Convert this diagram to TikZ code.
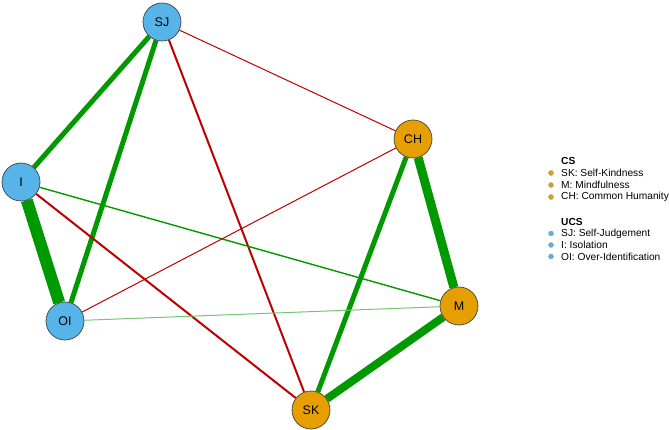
\documentclass[tikz,border=0pt]{standalone}
\usepackage{fontspec}
\setmainfont{Liberation Sans}
\usetikzlibrary{backgrounds}
\definecolor{pos}{HTML}{009900}
\definecolor{neg}{HTML}{BF0000}
\definecolor{csfill}{HTML}{E69F00}
\definecolor{ucsfill}{HTML}{56B4E9}
\begin{document}
\begin{tikzpicture}[x=1pt,y=-1pt,
  nd/.style={circle,draw=black!75,line width=0.7pt,minimum size=38pt,inner sep=0pt,font=\fontsize{12.5}{12.5}\selectfont},
  cs/.style={nd,fill=csfill},
  ucs/.style={nd,fill=ucsfill},
  pe/.style={draw=pos,line width=#1},
  ne/.style={draw=neg,line width=#1},
  dot/.style={circle,minimum size=5pt,inner sep=0pt,draw=black!40,line width=0.3pt},
  leg/.style={anchor=west,inner sep=0pt,font=\fontsize{10.2}{10}\selectfont},
  legh/.style={anchor=west,inner sep=0pt,font=\fontsize{10.2}{10}\selectfont\bfseries}]
\useasboundingbox (0,0) rectangle (669,430);
% nodes
\node[ucs] (SJ) at (162,22) {SJ};
\node[ucs] (I) at (21,182) {I};
\node[ucs] (OI) at (65,321) {OI};
\node[cs] (SK) at (311,410) {SK};
\node[cs] (CH) at (413,139) {CH};
\node[cs] (M) at (459,306) {M};
% edges
\begin{pgfonlayer}{background}
\fill[white] (0,0) rectangle (669,430);
\draw[pe=12pt] (I) -- (OI);
\draw[pe=9pt] (CH) -- (M);
\draw[pe=8pt] (SK) -- (M);
\draw[pe=5pt] (SJ) -- (I);
\draw[pe=5pt] (SJ) -- (OI);
\draw[pe=5pt] (CH) -- (SK);
\draw[ne=2pt] (SJ) -- (SK);
\draw[ne=2pt] (I) -- (SK);
\draw[pe=1.4pt] (I) -- (M);
\draw[ne=1pt] (SJ) -- (CH);
\draw[ne=1pt] (OI) -- (CH);
\draw[draw=pos!55,line width=1pt] (OI) -- (M);
\end{pgfonlayer}
% legend
\node[legh] (cs) at (561,161) {CS};
\node[dot,fill=csfill] (d1) at (551,173) {};
\node[leg] (l1) at (561,173) {SK: Self-Kindness};
\node[dot,fill=csfill] (d2) at (551,185) {};
\node[leg] (l2) at (561,185) {M: Mindfulness};
\node[dot,fill=csfill] (d3) at (551,197) {};
\node[leg] (l3) at (561,197) {CH: Common Humanity};
\node[legh] (ucs) at (561,222) {UCS};
\node[dot,fill=ucsfill] (d4) at (551,233.5) {};
\node[leg] (l4) at (561,233.5) {SJ: Self-Judgement};
\node[dot,fill=ucsfill] (d5) at (551,245) {};
\node[leg] (l5) at (561,245) {I: Isolation};
\node[dot,fill=ucsfill] (d6) at (551,256.5) {};
\node[leg] (l6) at (561,256.5) {OI: Over-Identification};
\end{tikzpicture}
\end{document}
